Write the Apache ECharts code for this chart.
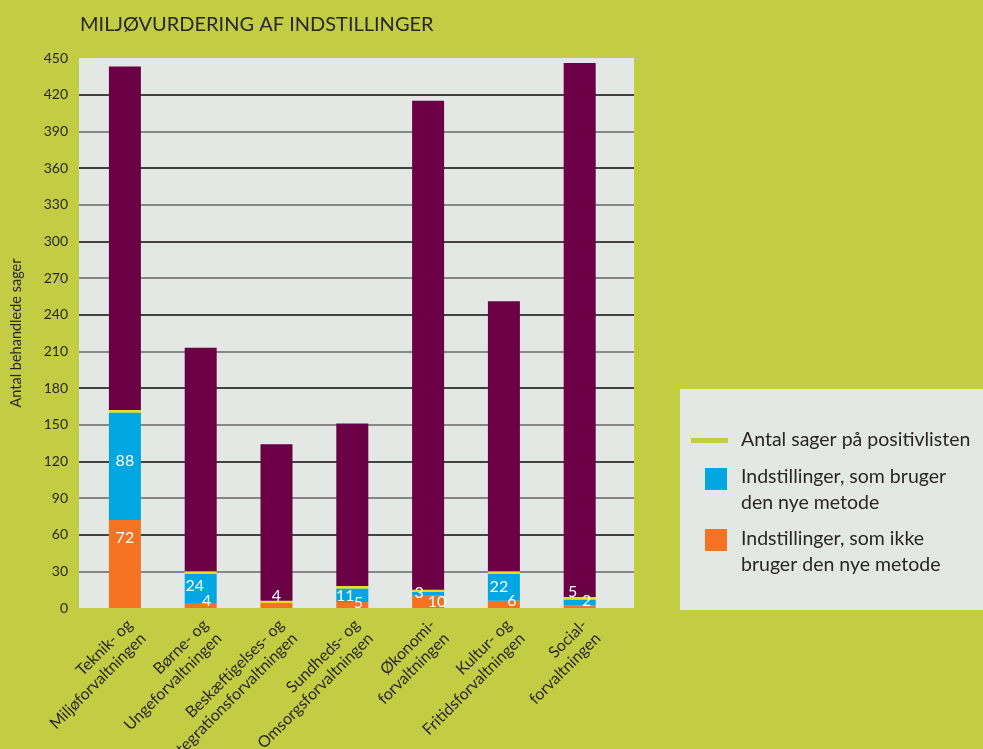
<!DOCTYPE html>
<html>
<head>
<meta charset="utf-8">
<title>Miljøvurdering af indstillinger</title>
<script src="https://cdn.jsdelivr.net/npm/echarts@6/dist/echarts.min.js"></script>
<style>
  html, body { margin: 0; padding: 0; background: #C2CD44; }
  #main { width: 983px; height: 749px; }
</style>
</head>
<body>
<div id="main"></div>
<script>
// data
var kategorier = [
    'Teknik- og\nMiljøforvaltningen',
    'Børne- og\nUngeforvaltningen',
    'Beskæftigelses- og\nIntegrationsforvaltningen',
    'Sundheds- og\nOmsorgsforvaltningen',
    'Økonomi-\nforvaltningen',
    'Kultur- og\nFritidsforvaltningen',
    'Social-\nforvaltningen'
];
var ikkeNyMetode = [72, 4, 4, 5, 10, 6, 2];      // orange
var nyMetode = [88, 24, 0, 11, 3, 22, 5];        // blå
var positivliste = [2, 2, 2, 2, 2, 2, 2];        // gul streg
var oevrige = [281, 183, 128, 133, 400, 221, 437]; // lilla rest op til total

// label placering (relativt til søjlestykkets øverste venstre hjørne)
var posNy = [[16, 48], [10, 12], null, [9, 7.5], [7, 0.5], [11, 13], [9, -8]];
var posIkke = [[16, 18], [22, -2], [16, -7], [22, 0.5], [25, 6], [24, 0], [23, -5]];

var font = 'Lato, "Open Sans", sans-serif';
var tekst = '#2a2627';

function medLabels(vals, pos) {
    return vals.map(function (v, i) {
        if (!pos[i] || v === 0) {
            return { value: v, label: { show: false } };
        }
        return {
            value: v,
            label: { show: true, position: pos[i], align: 'center', verticalAlign: 'middle' }
        };
    });
}

var barLabel = {
    color: '#ffffff',
    fontSize: 16,
    fontFamily: font
};

var myChart = echarts.init(document.getElementById('main'));

var option = {
    backgroundColor: '#C2CD44',
    animation: false,
    title: {
        text: 'MILJØVURDERING AF INDSTILLINGER',
        left: 75,
        top: 10,
        textStyle: { color: tekst, fontSize: 20, fontWeight: 'normal', fontFamily: font }
    },
    grid: [
        // baggrund + gitterlinjer
        { left: 79, top: 58, width: 555, height: 550, show: true, backgroundColor: '#E3E8E4', borderWidth: 0, outerBoundsMode: 'none' },
        // søjler
        { left: 87, top: 58, width: 530.6, height: 550, outerBoundsMode: 'none' },
        // kategori-tekster
        { left: 98.5, top: 58, width: 530.6, height: 550, outerBoundsMode: 'none' }
    ],
    xAxis: [
        { gridIndex: 0, type: 'value', min: 0, max: 1, show: false },
        { gridIndex: 1, type: 'category', data: kategorier, show: false },
        {
            gridIndex: 2, type: 'category', data: kategorier,
            axisLine: { show: false }, axisTick: { show: false },
            axisLabel: {
                interval: 0, rotate: 45, margin: 21,
                color: tekst, fontSize: 16, lineHeight: 19, fontFamily: font
            }
        }
    ],
    yAxis: [
        {
            gridIndex: 0, type: 'value', min: 0, max: 450, interval: 30,
            name: 'Antal behandlede sager',
            nameLocation: 'middle', nameGap: 55,
            nameTextStyle: { color: tekst, fontSize: 14.5, fontFamily: font },
            axisLine: { show: false }, axisTick: { show: false },
            axisLabel: { color: tekst, fontSize: 14, margin: 11, fontFamily: font },
            splitLine: {
                show: true, showMinLine: false, showMaxLine: false,
                lineStyle: { color: '#878787', width: 2 }
            }
        },
        {
            gridIndex: 0, type: 'value', min: 0, max: 450, interval: 60,
            axisLine: { show: false }, axisTick: { show: false }, axisLabel: { show: false },
            splitLine: {
                show: true, showMinLine: false, showMaxLine: false,
                lineStyle: { color: '#2b2b2b', width: 1.5 }
            }
        },
        { gridIndex: 1, type: 'value', min: 0, max: 450, show: false },
        { gridIndex: 2, type: 'value', min: 0, max: 450, show: false }
    ],
    series: [
        {
            name: 'Indstillinger, som ikke bruger den nye metode',
            type: 'bar', stack: 'i', xAxisIndex: 1, yAxisIndex: 2,
            barWidth: 32,
            itemStyle: { color: '#F47322' },
            label: barLabel,
            data: medLabels(ikkeNyMetode, posIkke)
        },
        {
            name: 'Indstillinger, som bruger den nye metode',
            type: 'bar', stack: 'i', xAxisIndex: 1, yAxisIndex: 2,
            barWidth: 32,
            itemStyle: { color: '#00A7E1' },
            label: barLabel,
            data: medLabels(nyMetode, posNy)
        },
        {
            name: 'Antal sager på positivlisten',
            type: 'bar', stack: 'i', xAxisIndex: 1, yAxisIndex: 2,
            barWidth: 32,
            itemStyle: { color: '#E3DF1E' },
            data: positivliste
        },
        {
            name: 'Øvrige',
            type: 'bar', stack: 'i', xAxisIndex: 1, yAxisIndex: 2,
            barWidth: 32,
            itemStyle: { color: '#6B0046' },
            data: oevrige
        }
    ],
    graphic: [
        { type: 'rect', shape: { x: 680, y: 389, width: 303, height: 221 }, style: { fill: '#E3E8E4' } },
        { type: 'rect', shape: { x: 691, y: 438, width: 37, height: 5 }, style: { fill: '#C2CD44' } },
        { type: 'text', x: 741, y: 440, style: { text: 'Antal sager på positivlisten', fill: tekst, fontSize: 19.5, fontFamily: font, verticalAlign: 'middle' } },
        { type: 'rect', shape: { x: 705, y: 468, width: 22, height: 22 }, style: { fill: '#00A7E1' } },
        { type: 'text', x: 741, y: 490, style: { text: 'Indstillinger, som bruger\nden nye metode', fill: tekst, fontSize: 19.5, lineHeight: 26, fontFamily: font, verticalAlign: 'middle' } },
        { type: 'rect', shape: { x: 705, y: 529, width: 22, height: 22 }, style: { fill: '#F47322' } },
        { type: 'text', x: 741, y: 552, style: { text: 'Indstillinger, som ikke\nbruger den nye metode', fill: tekst, fontSize: 19.5, lineHeight: 26, fontFamily: font, verticalAlign: 'middle' } }
    ]
};
myChart.setOption(option);
</script>
</body>
</html>
